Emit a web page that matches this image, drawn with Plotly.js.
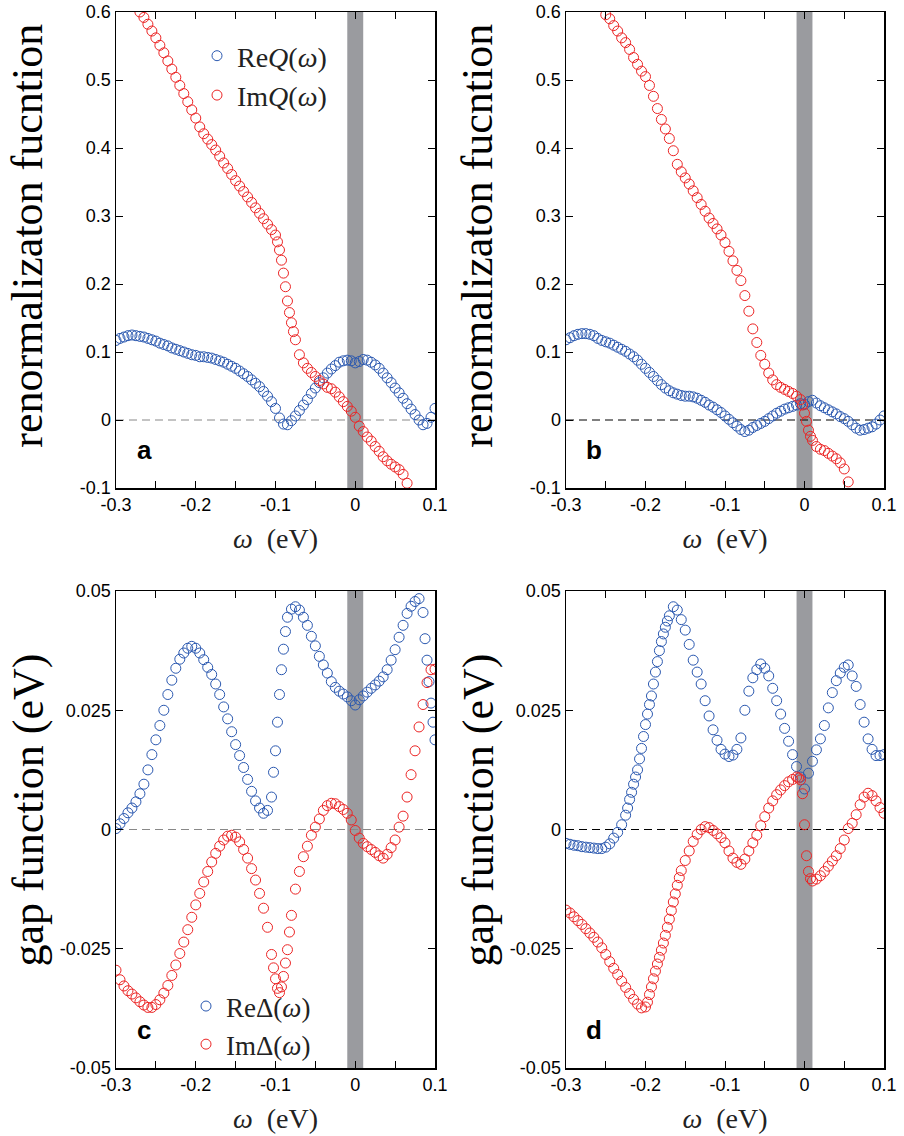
<!DOCTYPE html>
<html><head><meta charset="utf-8">
<script src="https://cdn.plot.ly/plotly-3.0.1.min.js"></script>
<style>html,body{margin:0;padding:0;background:#fff}#plot{width:904px;height:1136px}</style>
</head><body><div id="plot"></div>
<script>
// ---------- DATA ----------
const omega = [-0.300,-0.295,-0.290,-0.285,-0.280,-0.275,-0.270,-0.265,-0.260,-0.255,-0.250,-0.245,-0.240,-0.235,-0.230,-0.225,-0.220,-0.215,-0.210,-0.205,-0.200,-0.195,-0.190,-0.185,-0.180,-0.175,-0.170,-0.165,-0.160,-0.155,-0.150,-0.145,-0.140,-0.135,-0.130,-0.125,-0.120,-0.115,-0.110,-0.105,-0.100,-0.095,-0.090,-0.085,-0.080,-0.075,-0.070,-0.065,-0.060,-0.055,-0.050,-0.045,-0.040,-0.035,-0.030,-0.025,-0.020,-0.015,-0.010,-0.005,0.000,0.005,0.010,0.015,0.020,0.025,0.030,0.035,0.040,0.045,0.050,0.055,0.060,0.065,0.070,0.075,0.080,0.085,0.090,0.095,0.100];

// panel a
const reQ_a = [0.117,0.120,0.122,0.124,0.125, 0.124,0.123,0.122,0.120,0.118, 0.116,0.113,0.111,0.109,0.106, 0.104,0.102,0.100,0.098,0.096, 0.095,0.093,0.093,0.092,0.091, 0.089,0.087,0.085,0.082,0.079, 0.076,0.072,0.068,0.064,0.059, 0.054,0.049,0.042,0.035,0.027, 0.017,0.003,-0.006,-0.007,-0.001, 0.006,0.014,0.022,0.030,0.039, 0.047,0.055,0.062,0.069,0.075, 0.080,0.085,0.087,0.088,0.087, 0.084,0.086,0.089,0.088,0.085, 0.081,0.076,0.069,0.062,0.055, 0.047,0.040,0.032,0.024,0.016, 0.008,0.000,-0.007,-0.005,0.004, 0.017];
const omega_imQ_a = [-0.270,-0.265,-0.260,-0.255,-0.250,-0.245,-0.240,-0.235,-0.230,-0.225,-0.220,-0.215,-0.210,-0.205,-0.200,-0.195,-0.190,-0.185,-0.180,-0.175,-0.170,-0.165,-0.160,-0.155,-0.150,-0.145,-0.140,-0.135,-0.130,-0.125,-0.120,-0.115,-0.110,-0.105,-0.100,-0.0975,-0.095,-0.0925,-0.090,-0.0875,-0.085,-0.0825,-0.080,-0.0775,-0.075,-0.070,-0.065,-0.060,-0.055,-0.050,-0.045,-0.040,-0.035,-0.030,-0.025,-0.020,-0.015,-0.010,-0.005,0.000,0.005,0.010,0.015,0.020,0.025,0.030,0.035,0.040,0.045,0.050,0.055,0.060,0.065];
const imQ_a = [0.600,0.592,0.582,0.572,0.562,0.551,0.540,0.528,0.516,0.504,0.492,0.480,0.468,0.456,0.444,0.431,0.421,0.413,0.405,0.397,0.388,0.378,0.370,0.361,0.352,0.344,0.336,0.328,0.320,0.312,0.304,0.296,0.288,0.280,0.272,0.262,0.250,0.235,0.216,0.196,0.175,0.158,0.143,0.130,0.118,0.096,0.084,0.076,0.070,0.064,0.058,0.053,0.048,0.046,0.041,0.034,0.027,0.020,0.013,0.004,-0.009,-0.017,-0.025,-0.031,-0.039,-0.046,-0.054,-0.060,-0.065,-0.069,-0.073,-0.080,-0.093];

// panel b
const reQ_b = [0.118,0.121,0.124,0.126,0.127, 0.127,0.126,0.124,0.120,0.117, 0.115,0.113,0.110,0.107,0.104, 0.101,0.097,0.093,0.088,0.082, 0.076,0.070,0.064,0.058,0.052, 0.047,0.043,0.040,0.038,0.036, 0.035,0.035,0.034,0.032,0.029, 0.026,0.022,0.019,0.015,0.011, 0.006,0.001,-0.004,-0.009,-0.014, -0.017,-0.015,-0.011,-0.008,-0.005, -0.002,0.002,0.006,0.010,0.013, 0.016,0.018,0.020,0.022,0.024, 0.023,0.027,0.029,0.025,0.021, 0.018,0.015,0.012,0.009,0.005, 0.002,-0.002,-0.007,-0.012,-0.015, -0.014,-0.012,-0.010,-0.006,0.000, 0.006];
const omega_imQ_b = [-0.250,-0.245,-0.240,-0.235,-0.230,-0.225,-0.220,-0.215,-0.210,-0.205,-0.200,-0.195,-0.190,-0.185,-0.180,-0.175,-0.170,-0.165,-0.160,-0.155,-0.150,-0.145,-0.140,-0.135,-0.130,-0.125,-0.120,-0.115,-0.110,-0.105,-0.100,-0.095,-0.090,-0.085,-0.080,-0.075,-0.070,-0.065,-0.060,-0.055,-0.050,-0.045,-0.040,-0.035,-0.030,-0.025,-0.020,-0.015,-0.010,-0.005,-0.0025,0.000,0.0025,0.005,0.0075,0.010,0.015,0.020,0.025,0.030,0.035,0.040,0.045,0.050,0.055];
const imQ_b = [0.596,0.590,0.580,0.572,0.562,0.555,0.545,0.533,0.523,0.513,0.505,0.492,0.476,0.458,0.442,0.428,0.414,0.396,0.376,0.365,0.356,0.347,0.337,0.327,0.317,0.307,0.297,0.289,0.281,0.272,0.261,0.248,0.234,0.220,0.205,0.183,0.160,0.134,0.114,0.095,0.082,0.069,0.059,0.052,0.048,0.045,0.042,0.039,0.035,0.030,0.022,0.010,-0.002,-0.015,-0.024,-0.030,-0.039,-0.043,-0.045,-0.049,-0.053,-0.057,-0.063,-0.072,-0.091];

// panel c
const omega_reD_c = [-0.300,-0.295,-0.290,-0.285,-0.280,-0.275,-0.270,-0.265,-0.260,-0.255,-0.250,-0.245,-0.240,-0.235,-0.230,-0.225,-0.220,-0.215,-0.210,-0.205,-0.200,-0.195,-0.190,-0.185,-0.180,-0.175,-0.170,-0.165,-0.160,-0.155,-0.150,-0.145,-0.140,-0.135,-0.130,-0.125,-0.120,-0.115,-0.110,-0.105,-0.1025,-0.100,-0.0975,-0.095,-0.0925,-0.090,-0.0875,-0.085,-0.080,-0.075,-0.070,-0.065,-0.060,-0.055,-0.050,-0.045,-0.040,-0.035,-0.030,-0.025,-0.020,-0.015,-0.010,-0.005,0.000,0.005,0.010,0.015,0.020,0.025,0.030,0.035,0.040,0.045,0.050,0.055,0.060,0.065,0.070,0.075,0.080,0.085,0.0875,0.090,0.0925,0.095,0.0975,0.100];
const reD_c = [0.0002,0.0012,0.0023,0.0035,0.0045, 0.0058,0.0075,0.0095,0.0125,0.0157, 0.0188,0.0218,0.0250,0.0283,0.0313, 0.0338,0.0357,0.0370,0.0380,0.0384, 0.0380,0.0370,0.0356,0.0340,0.0325, 0.0305,0.0283,0.0257,0.0232,0.0205, 0.0178,0.0155,0.0130,0.0105,0.0080, 0.0060,0.0045,0.0034,0.0040,0.0068, 0.0120,0.0165,0.0225,0.0283,0.0335,0.0378,0.0415,0.0445, 0.0462,0.0467,0.0460,0.0445,0.0428, 0.0405,0.0385,0.0363,0.0345,0.0328, 0.0310,0.0298,0.0290,0.0284,0.0278, 0.0270,0.0261,0.0272,0.0280,0.0288, 0.0296,0.0303,0.0311,0.0320,0.0335, 0.0355,0.0377,0.0403,0.0428,0.0453, 0.0468,0.0478,0.0484,0.0455, 0.0400,0.0355,0.0310,0.0265,0.0225,0.0188];
const omega_imD_c = [-0.300,-0.295,-0.290,-0.285,-0.280,-0.275,-0.270,-0.265,-0.260,-0.255,-0.250,-0.245,-0.240,-0.235,-0.230,-0.225,-0.220,-0.215,-0.210,-0.205,-0.200,-0.195,-0.190,-0.185,-0.180,-0.175,-0.170,-0.165,-0.160,-0.155,-0.150,-0.145,-0.140,-0.135,-0.130,-0.125,-0.120,-0.115,-0.110,-0.105,-0.1025,-0.100,-0.0975,-0.095,-0.0925,-0.090,-0.0875,-0.085,-0.0825,-0.080,-0.075,-0.070,-0.065,-0.060,-0.055,-0.050,-0.045,-0.040,-0.035,-0.030,-0.025,-0.020,-0.015,-0.010,-0.005,0.000,0.005,0.010,0.015,0.020,0.025,0.030,0.035,0.040,0.045,0.050,0.055,0.060,0.065,0.070,0.075,0.080,0.085,0.090,0.095,0.100];
const imD_c = [-0.0295,-0.0315,-0.0328,-0.0338,-0.0345, -0.0353,-0.0361,-0.0368,-0.0373,-0.0373, -0.0367,-0.0357,-0.0343,-0.0327,-0.0306, -0.0284,-0.0260,-0.0236,-0.0210,-0.0184, -0.0158,-0.0134,-0.0110,-0.0088,-0.0068, -0.0050,-0.0035,-0.0022,-0.0014,-0.0012, -0.0016,-0.0026,-0.0042,-0.0060,-0.0082, -0.0106,-0.0134,-0.0165,-0.0205,-0.0262, -0.0290,-0.0313,-0.0333,-0.0342,-0.0330,-0.0308,-0.0280,-0.0252,-0.0215, -0.0180, -0.0125,-0.0088,-0.0057,-0.0035,-0.0012, 0.0005,0.0022,0.0040,0.0050,0.0055, 0.0054,0.0048,0.0042,0.0034,0.0020, -0.0002,-0.0018,-0.0029,-0.0036,-0.0042, -0.0048,-0.0055,-0.0060,-0.0052,-0.0038, -0.0022,0.0005,0.0028,0.0068,0.0115, 0.0165,0.0215,0.0262,0.0308,0.0335, 0.0336];

// panel d
const omega_reD_d = [-0.300,-0.295,-0.290,-0.285,-0.280,-0.275,-0.270,-0.265,-0.260,-0.255,-0.250,-0.245,-0.240,-0.235,-0.230,-0.225,-0.2225,-0.220,-0.2175,-0.215,-0.2125,-0.210,-0.2075,-0.205,-0.2025,-0.200,-0.1975,-0.195,-0.1925,-0.190,-0.1875,-0.185,-0.1825,-0.180,-0.1775,-0.175,-0.1725,-0.170,-0.165,-0.160,-0.155,-0.150,-0.145,-0.140,-0.135,-0.130,-0.125,-0.120,-0.115,-0.110,-0.105,-0.100,-0.095,-0.090,-0.085,-0.080,-0.075,-0.070,-0.065,-0.060,-0.055,-0.050,-0.045,-0.040,-0.035,-0.030,-0.025,-0.020,-0.015,-0.010,-0.005,0.000,0.005,0.010,0.015,0.020,0.025,0.030,0.035,0.040,0.045,0.050,0.055,0.060,0.065,0.070,0.075,0.080,0.085,0.090,0.095,0.100];
const reD_d = [-0.0029,-0.0031,-0.0033,-0.0034,-0.0036, -0.0037,-0.0038,-0.0039,-0.0040,-0.0040, -0.0037,-0.0030,-0.0018,-0.0006,0.0010, 0.0030, 0.0045,0.0063,0.0078,0.0095,0.0110,0.0125,0.0148,0.0170,0.0195,0.0220,0.0242,0.0262,0.0280,0.0305,0.0330,0.0352,0.0375,0.0394,0.0410,0.0424,0.0437,0.0448, 0.0467,0.0460,0.0440,0.0418,0.0388, 0.0355,0.0330,0.0305,0.0270,0.0238, 0.0209,0.0187,0.0168,0.0158,0.0153, 0.0156,0.0168,0.0192,0.0250,0.0290, 0.0318,0.0335,0.0347,0.0338,0.0322, 0.0296,0.0270,0.0242,0.0212,0.0185, 0.0157,0.0132,0.0110,0.0085,0.0118, 0.0143,0.0167,0.0190,0.0218,0.0255, 0.0287,0.0312,0.0328,0.0340,0.0345, 0.0322,0.0300,0.0262,0.0225,0.0190, 0.0168,0.0155,0.0155,0.0157];
const omega_imD_d = [-0.300,-0.295,-0.290,-0.285,-0.280,-0.275,-0.270,-0.265,-0.260,-0.255,-0.250,-0.245,-0.240,-0.235,-0.230,-0.225,-0.220,-0.215,-0.210,-0.205,-0.200,-0.1975,-0.195,-0.1925,-0.190,-0.1875,-0.185,-0.1825,-0.180,-0.1775,-0.175,-0.1725,-0.170,-0.1675,-0.165,-0.1625,-0.160,-0.1575,-0.155,-0.150,-0.145,-0.140,-0.135,-0.130,-0.125,-0.120,-0.115,-0.110,-0.105,-0.100,-0.095,-0.090,-0.085,-0.080,-0.075,-0.070,-0.065,-0.060,-0.055,-0.050,-0.045,-0.040,-0.035,-0.030,-0.025,-0.020,-0.015,-0.010,-0.0075,-0.005,-0.0025,0.000,0.0025,0.005,0.0075,0.010,0.015,0.020,0.025,0.030,0.035,0.040,0.045,0.050,0.055,0.060,0.065,0.070,0.075,0.080,0.085,0.090,0.095,0.100];
const imD_d = [-0.0169,-0.0175,-0.0183,-0.0191,-0.0199, -0.0208,-0.0217,-0.0226,-0.0236,-0.0248, -0.0262,-0.0277,-0.0291,-0.0304,-0.0318, -0.0331,-0.0344,-0.0356,-0.0366,-0.0374, -0.0372, -0.0362,-0.0346,-0.0330,-0.0313,-0.0297,-0.0282,-0.0268,-0.0253,-0.0238,-0.0222,-0.0205,-0.0188,-0.0170,-0.0152,-0.0135,-0.0117,-0.0101,-0.0086, -0.0065,-0.0045,-0.0025,-0.0010,0.0000, 0.0006,0.0004,-0.0002,-0.0009,-0.0017, -0.0028,-0.0045,-0.0060,-0.0069,-0.0073, -0.0062,-0.0045,-0.0028,-0.0012,0.0008, 0.0027,0.0045,0.0060,0.0073,0.0083, 0.0092,0.0100,0.0105,0.0110, 0.0108,0.0104,0.0075,0.0010,-0.0055,-0.0088,-0.0103, -0.0108,-0.0104,-0.0097,-0.0088,-0.0077,-0.0066,-0.0055,-0.0040,-0.0022,0.0002,0.0013,0.0031,0.0052,0.0068,0.0076,0.0071,0.0060,0.0046,0.0034];

// tick labels and texts
const xTickVals = [-0.3,-0.25,-0.2,-0.15,-0.1,-0.05,0,0.05,0.1];
const xTickText = ['-0.3','','-0.2','','-0.1','','0','','0.1'];
const yTickValsQ = [0.6,0.5,0.4,0.3,0.2,0.1,0,-0.1];
const yTickTextQ = ['0.6','0.5','0.4','0.3','0.2','0.1','0','-0.1'];
const yTickValsD = [0.05,0.025,0,-0.025,-0.05];
const yTickTextD = ['0.05','0.025','0','-0.025','-0.05'];
const legendQ = ['Re<i>Q</i>(<i>ω</i>)','Im<i>Q</i>(<i>ω</i>)'];
const legendD = ['ReΔ(<i>ω</i>)','ImΔ(<i>ω</i>)'];
const panelLabels = ['a','b','c','d'];
const yTitleQ = 'renormalizaton fucntion';
const yTitleD = 'gap function (eV)';
const xTitle = '<i>ω</i>&nbsp;&nbsp;(eV)';

// ---------- STYLE ----------
const BLUE = '#2a58b0', RED = '#ec2424';
const SERIF = 'Liberation Serif, Times New Roman, serif';
const SANS = 'Liberation Sans, Arial, sans-serif';

function mk(x, y, color, name, xa, ya, legend, show) {
  return {x: x, y: y, type: 'scatter', mode: 'markers', name: name,
    xaxis: xa, yaxis: ya, legend: legend, showlegend: show,
    marker: {symbol: 'circle-open', size: 10, color: color, line: {width: 1, color: color}}};
}
const data = [
  mk(omega, reQ_a, BLUE, legendQ[0], 'x', 'y', 'legend', true),
  mk(omega_imQ_a, imQ_a, RED, legendQ[1], 'x', 'y', 'legend', true),
  mk(omega, reQ_b, BLUE, legendQ[0], 'x2', 'y2', 'legend', false),
  mk(omega_imQ_b, imQ_b, RED, legendQ[1], 'x2', 'y2', 'legend', false),
  mk(omega_reD_c, reD_c, BLUE, legendD[0], 'x3', 'y3', 'legend2', true),
  mk(omega_imD_c, imD_c, RED, legendD[1], 'x3', 'y3', 'legend2', true),
  mk(omega_reD_d, reD_d, BLUE, legendD[0], 'x4', 'y4', 'legend2', false),
  mk(omega_imD_d, imD_d, RED, legendD[1], 'x4', 'y4', 'legend2', false)
];

const W = 904, H = 1136;
const colL = [116/W, 435/W], colR = [566/W, 884/W];
const rowT = [1-488/H, 1-12/H], rowB = [1-1068/H, 1-591/H];

function xAxis(domain, anchor) {
  return {domain: domain, anchor: anchor, range: [-0.3, 0.1], tickmode: 'array',
    tickvals: xTickVals, ticktext: xTickText, ticks: 'inside', ticklen: 7, tickwidth: 1,
    tickcolor: '#000', showline: true, linecolor: '#000', linewidth: 1.5, mirror: 'ticks',
    showgrid: false, zeroline: false, automargin: false,
    tickfont: {family: SANS, size: 18, color: '#000'},
    title: {text: xTitle, font: {family: SERIF, size: 28, color: '#222'}, standoff: 14}};
}
function yAxis(domain, anchor, range, tv, tt) {
  return {domain: domain, anchor: anchor, range: range, tickmode: 'array',
    tickvals: tv, ticktext: tt, ticks: 'inside', ticklen: 7, tickwidth: 1,
    tickcolor: '#000', showline: true, linecolor: '#000', linewidth: 1.5, mirror: 'ticks',
    showgrid: false, zeroline: false, automargin: false,
    tickfont: {family: SANS, size: 18, color: '#000'}};
}

const shapes = [];
[['x','y','#888'],['x2','y2','#000'],['x3','y3','#888'],['x4','y4','#000']].forEach(function(p){
  shapes.push({type: 'rect', xref: p[0], yref: p[1] + ' domain', x0: -0.01, x1: 0.01, y0: 0, y1: 1,
    fillcolor: '#9a9b9f', line: {width: 0}, layer: 'below'});
  shapes.push({type: 'line', xref: p[0] + ' domain', yref: p[1], x0: 0, x1: 1, y0: 0, y1: 0,
    line: {color: p[2], width: 1, dash: '8px,5px'}, layer: 'below'});
});

const annotations = [['x','y'],['x2','y2'],['x3','y3'],['x4','y4']].map(function(p, i){
  return {text: '<b>' + panelLabels[i] + '</b>', xref: p[0] + ' domain', yref: p[1] + ' domain',
    x: 0.088, y: 0.08, xanchor: 'center', yanchor: 'middle', showarrow: false,
    font: {family: SANS, size: 26, color: '#000'}};
});
// y-axis titles
[[28, 'y', yTitleQ, 0.53], [478, 'y2', yTitleQ, 0.53], [28, 'y3', yTitleD, 0.54], [478, 'y4', yTitleD, 0.54]].forEach(function(t){
  annotations.push({text: t[2], xref: 'paper', x: t[0]/W, xanchor: 'center',
    yref: t[1] + ' domain', y: t[3], yanchor: 'middle', textangle: -90, showarrow: false,
    font: {family: SERIF, size: 44, color: '#000'}});
});

const layout = {
  width: W, height: H, margin: {l: 0, r: 0, t: 0, b: 0},
  paper_bgcolor: '#fff', plot_bgcolor: '#fff',
  xaxis: xAxis(colL, 'y'), yaxis: yAxis(rowT, 'x', [-0.1, 0.6], yTickValsQ, yTickTextQ),
  xaxis2: xAxis(colR, 'y2'), yaxis2: yAxis(rowT, 'x2', [-0.1, 0.6], yTickValsQ, yTickTextQ),
  xaxis3: xAxis(colL, 'y3'), yaxis3: yAxis(rowB, 'x3', [-0.05, 0.05], yTickValsD, yTickTextD),
  xaxis4: xAxis(colR, 'y4'), yaxis4: yAxis(rowB, 'x4', [-0.05, 0.05], yTickValsD, yTickTextD),
  legend: {x: 197/W, y: 1-31/H, xanchor: 'left', yanchor: 'top', bgcolor: 'rgba(0,0,0,0)',
    font: {family: SERIF, size: 28, color: '#222'}, itemwidth: 30, tracegroupgap: 0},
  legend2: {x: 186/W, y: 1-982/H, xanchor: 'left', yanchor: 'top', bgcolor: 'rgba(0,0,0,0)',
    font: {family: SERIF, size: 27, color: '#222'}, itemwidth: 30, tracegroupgap: 0},
  shapes: shapes, annotations: annotations
};

Plotly.newPlot('plot', data, layout, {staticPlot: true, displayModeBar: false});
</script></body></html>
